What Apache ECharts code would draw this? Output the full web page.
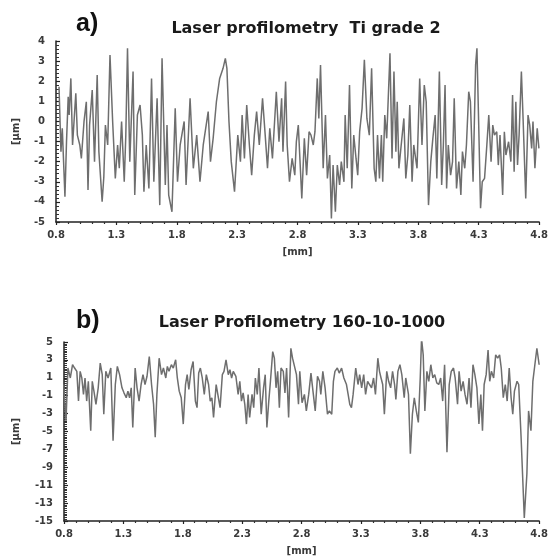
<!DOCTYPE html>
<html>
<head>
<meta charset="utf-8">
<script src="https://cdn.jsdelivr.net/npm/echarts@6/dist/echarts.min.js"></script>
<style>html,body{margin:0;padding:0;background:#fff}#c{width:551px;height:557px}</style>
</head>
<body>
<div id="c"></div>
<script>
// ---- Data ----
const titleA = 'Laser profilometry  Ti grade 2';
const titleB = 'Laser Profilometry 160-10-1000';
const xTicks = [0.8, 1.3, 1.8, 2.3, 2.8, 3.3, 3.8, 4.3, 4.8];
const yTicksA = [-5, -4, -3, -2, -1, 0, 1, 2, 3, 4];
const yTicksB = [-15, -13, -11, -9, -7, -5, -3, -1, 1, 3, 5];

// a) Ti grade 2 profile: position [mm] and height [µm]
const posA = [0.825,0.841,0.852,0.874,0.887,0.901,0.909,0.923,0.937,0.964,0.977,0.997,1.010,1.032,1.051,1.065,1.078,1.100,1.119,1.141,1.155,1.182,1.196,1.209,1.228,1.247,1.269,1.291,1.310,1.324,1.343,1.365,1.378,1.392,1.411,1.438,1.452,1.474,1.496,1.515,1.528,1.547,1.569,1.591,1.610,1.637,1.659,1.678,1.705,1.719,1.733,1.760,1.787,1.806,1.828,1.861,1.877,1.910,1.937,1.965,1.992,2.019,2.060,2.079,2.101,2.128,2.155,2.183,2.202,2.215,2.232,2.251,2.278,2.305,2.327,2.341,2.360,2.379,2.401,2.420,2.442,2.461,2.483,2.510,2.532,2.551,2.570,2.592,2.624,2.646,2.668,2.679,2.701,2.714,2.733,2.755,2.777,2.790,2.806,2.835,2.856,2.875,2.895,2.911,2.930,2.944,2.963,2.976,2.990,3.012,3.031,3.047,3.066,3.080,3.094,3.113,3.129,3.148,3.162,3.184,3.194,3.211,3.230,3.249,3.265,3.284,3.298,3.314,3.334,3.353,3.374,3.394,3.413,3.434,3.448,3.462,3.478,3.494,3.505,3.522,3.538,3.565,3.582,3.598,3.614,3.625,3.639,3.658,3.680,3.696,3.713,3.729,3.748,3.762,3.789,3.811,3.830,3.849,3.865,3.884,3.903,3.920,3.939,3.953,3.974,3.993,4.007,4.021,4.034,4.048,4.067,4.083,4.097,4.116,4.135,4.152,4.165,4.184,4.198,4.217,4.231,4.253,4.274,4.285,4.299,4.315,4.329,4.348,4.367,4.383,4.402,4.416,4.430,4.449,4.462,4.476,4.498,4.512,4.525,4.547,4.566,4.580,4.593,4.607,4.621,4.634,4.653,4.667,4.689,4.708,4.722,4.738,4.749,4.765,4.784,4.798];
const hA = [1.73,-1.5,-0.34,-3.74,-1.01,1.23,0.32,2.14,-1.17,1.40,-0.68,-1.17,-1.84,0.0,0.98,-3.41,-0.18,1.56,-2.0,2.31,-1.5,-3.99,-2.75,-0.18,-1.17,3.3,0.0,-2.83,-1.17,-2.33,0.0,-3.0,-0.68,3.64,-2.0,2.48,-3.66,0.32,0.82,-0.68,-3.49,-1.17,-3.33,2.14,-3.0,1.15,-4.16,3.14,-3.16,-0.18,-3.66,-4.49,0.65,-3.0,-1.17,0.0,-3.16,1.15,-2.33,-0.68,-3.0,-1.17,0.49,-2.0,-0.84,0.98,2.14,2.64,3.14,2.64,0.0,-2.0,-3.49,-0.68,-2.0,0.32,-1.84,0.82,-1.17,-2.67,-0.68,0.49,-1.17,1.15,-0.68,-2.33,-0.34,-1.84,1.48,-1.01,1.15,-1.5,1.98,-1.17,-3.0,-1.84,-2.67,-1.0,-0.18,-3.83,-0.84,-2.67,-0.51,-0.68,-1.17,-0.51,2.14,0.15,2.81,-2.33,0.32,-2.83,-1.67,-4.82,-2.17,-4.49,-2.17,-3.16,-2.0,-3.0,0.32,-2.33,1.81,-3.33,-0.68,-1.84,-2.67,-0.51,0.65,3.06,0.15,-0.68,2.64,-2.33,-3.0,-0.68,-2.83,-0.68,-3.0,0.32,-0.84,3.39,-1.84,2.48,-1.5,0.98,-2.33,-1.17,0.15,-2.83,-1.67,0.82,-3.0,-1.17,-2.33,2.14,-1.17,1.81,0.98,-4.16,-2.0,-0.84,0.32,-2.83,2.48,-3.16,-1.17,1.81,-3.33,-1.17,-2.67,-2.0,1.15,-3.33,-2.0,-3.66,-1.5,-2.33,-1.17,1.48,0.98,-3.0,2.81,3.64,0.0,-4.32,-3.0,-2.83,-1.17,0.32,-2.0,-0.18,-0.68,-0.51,-2.17,-0.68,-3.66,-0.51,-1.67,-1.01,-2.0,1.31,-2.5,0.98,-2.17,-0.68,2.48,0.15,-3.83,0.32,-0.18,-1.34,0.0,-2.33,-0.34,-1.34];

// b) 160-10-1000 profile: position [mm] and height [µm]
const posB = [0.797,0.817,0.833,0.853,0.872,0.889,0.908,0.922,0.936,0.950,0.964,0.977,0.991,1.005,1.025,1.038,1.052,1.069,1.088,1.105,1.122,1.135,1.152,1.171,1.194,1.213,1.232,1.249,1.268,1.288,1.305,1.324,1.338,1.352,1.366,1.379,1.399,1.415,1.432,1.449,1.465,1.482,1.499,1.518,1.537,1.554,1.568,1.582,1.601,1.621,1.637,1.657,1.670,1.684,1.704,1.720,1.740,1.754,1.770,1.787,1.804,1.823,1.837,1.851,1.870,1.887,1.906,1.920,1.934,1.948,1.964,1.981,1.998,2.017,2.031,2.045,2.059,2.081,2.100,2.114,2.133,2.147,2.164,2.183,2.197,2.211,2.225,2.247,2.266,2.280,2.294,2.308,2.322,2.336,2.350,2.363,2.383,2.397,2.411,2.427,2.441,2.460,2.480,2.494,2.508,2.524,2.538,2.557,2.571,2.585,2.599,2.613,2.627,2.646,2.660,2.674,2.691,2.710,2.724,2.738,2.757,2.774,2.785,2.804,2.824,2.840,2.860,2.879,2.896,2.915,2.934,2.951,2.962,2.979,2.998,3.018,3.034,3.054,3.068,3.081,3.101,3.117,3.137,3.156,3.178,3.192,3.206,3.220,3.234,3.256,3.275,3.289,3.306,3.323,3.339,3.356,3.372,3.389,3.406,3.422,3.442,3.456,3.469,3.483,3.497,3.517,3.533,3.550,3.566,3.583,3.594,3.611,3.628,3.644,3.664,3.677,3.700,3.716,3.733,3.749,3.766,3.783,3.799,3.810,3.824,3.838,3.855,3.871,3.888,3.905,3.921,3.938,3.955,3.971,3.988,4.004,4.024,4.043,4.060,4.079,4.093,4.113,4.126,4.143,4.160,4.176,4.193,4.210,4.226,4.243,4.259,4.276,4.293,4.309,4.323,4.337,4.354,4.370,4.384,4.398,4.417,4.434,4.451,4.467,4.481,4.498,4.515,4.531,4.548,4.564,4.578,4.592,4.614,4.628,4.648,4.675,4.697,4.711,4.731,4.747,4.764,4.781,4.800];
const hB = [0.25,-3.81,2.09,0.98,2.46,2.09,1.72,-1.6,1.72,0.98,-0.86,0.98,-1.6,0.61,-4.91,0.61,-0.49,-1.96,-0.12,2.64,1.35,-3.07,1.72,0.98,2.09,-6.02,0.25,2.27,1.35,-0.12,-0.68,-1.23,-0.49,-1.23,-0.12,-4.54,2.09,-0.12,-1.6,0.25,1.35,0.25,1.17,3.38,0.25,-1.96,-5.65,-0.86,3.19,1.35,2.09,0.98,2.27,1.72,2.46,2.09,3.01,0.98,-0.49,-1.23,-4.17,0.25,1.35,-0.31,1.9,2.82,-1.6,-2.33,1.53,2.09,0.98,-0.86,1.35,0.25,-1.6,-1.23,-3.44,0.25,-1.23,-2.33,1.35,1.72,3.01,1.35,1.9,0.98,1.72,1.17,-0.86,0.61,-1.6,-0.68,-1.96,-4.17,-0.86,-3.44,-0.86,-2.33,0.98,-0.86,2.09,-3.07,-0.12,1.35,-4.54,-1.6,0.61,3.93,3.19,-0.12,1.72,-2.33,2.09,1.72,-0.68,2.09,-3.44,4.3,3.19,3.38,1.35,-1.96,1.72,-1.78,-0.86,-2.70,-0.86,1.53,-0.49,-2.70,1.17,0.61,-0.86,1.72,-0.12,-3.07,-2.70,-3.07,0.61,1.72,2.09,1.53,2.09,0.98,0.25,-0.86,-1.96,-2.33,-0.86,2.09,0.25,1.35,-0.12,1.35,-0.86,0.61,0.25,-0.12,0.98,-0.86,3.19,1.72,0.98,0.25,-3.07,1.72,0.61,-0.12,1.72,0.25,-1.41,1.72,2.46,1.35,-1.23,0.98,-0.86,-7.49,-3.07,-1.23,-2.70,-3.99,0.98,5.4,3.56,-2.70,1.72,0.61,2.46,0.98,1.35,0.43,0.25,0.98,-1.6,2.46,-7.31,0.25,1.72,2.09,0.98,-1.96,1.72,-0.49,0.61,-0.86,-1.96,0.98,-2.33,2.46,1.35,-0.12,-4.17,-0.86,-4.91,0.25,1.35,4.11,0.61,1.72,0.98,3.56,3.19,3.56,2.09,-1.23,0.25,-1.6,2.09,-1.23,-3.07,-0.49,0.61,0.25,-5.65,-14.67,-9.70,-2.70,-4.91,0.61,2.46,4.3,2.46];

// ---- Chart ----
const zip = (xs, ys) => xs.map((x, i) => [x, ys[i]]);
const FONT = 'DejaVu Sans, Verdana, sans-serif';
const lblFont = { color: '#3a3a3a', fontFamily: FONT, fontWeight: 'bold', fontSize: 10 };
const axLine = { show: true, onZero: false, lineStyle: { color: '#222', width: 1.5 } };

function xAxis(gi, gap) {
  return {
    type: 'value', gridIndex: gi, min: xTicks[0], max: xTicks[xTicks.length - 1], interval: xTicks[1] - xTicks[0],
    name: '[mm]', nameLocation: 'middle', nameGap: gap,
    nameTextStyle: Object.assign({}, lblFont, { fontSize: 10 }),
    axisLine: axLine,
    axisTick: { show: true, length: 3, lineStyle: { color: '#222', width: 1.2 } },
    minorTick: { show: true, splitNumber: 5, length: 2, lineStyle: { color: '#333', width: 1.2 } },
    splitLine: { show: false },
    axisLabel: Object.assign({}, lblFont, { margin: 8, formatter: v => v.toFixed(1), showMaxLabel: true }),
  };
}
function yAxis(gi, ticks, minorSplit, gap) {
  return {
    type: 'value', gridIndex: gi, min: ticks[0], max: ticks[ticks.length - 1], interval: ticks[1] - ticks[0],
    name: '[µm]', nameLocation: 'middle', nameGap: gap, nameRotate: 90,
    nameTextStyle: Object.assign({}, lblFont, { fontSize: 10 }),
    axisLine: axLine,
    axisTick: { show: true, inside: true, length: 4, lineStyle: { color: '#222', width: 1.2 } },
    minorTick: { show: true, splitNumber: minorSplit, length: 3, lineStyle: { color: '#333', width: 1 } },
    splitLine: { show: false },
    axisLabel: Object.assign({}, lblFont, { margin: 11 }),
  };
}

const chart = echarts.init(document.getElementById('c'), null, { renderer: 'canvas' });
chart.setOption({
  backgroundColor: '#ffffff',
  animation: false,
  title: [
    { text: titleA, left: 301, top: 16, textAlign: 'center', textStyle: { fontFamily: FONT, fontWeight: 'bold', fontSize: 16, color: '#1a1a1a' } },
    { text: titleB, left: 297, top: 310, textAlign: 'center', textStyle: { fontFamily: FONT, fontWeight: 'bold', fontSize: 16, color: '#1a1a1a' } },
    { text: 'a)', left: 71, top: 7, textStyle: { fontFamily: 'Liberation Sans, Arial, sans-serif', fontWeight: 'bold', fontSize: 25, color: '#111' } },
    { text: 'b)', left: 71, top: 304, textStyle: { fontFamily: 'Liberation Sans, Arial, sans-serif', fontWeight: 'bold', fontSize: 25, color: '#111' } },
  ],
  grid: [
    { left: 56, right: 6, top: 41, height: 181 },
    { left: 64, right: 6, top: 342, height: 181 },
  ],
  xAxis: [xAxis(0, 25), xAxis(1, 25)],
  yAxis: [yAxis(0, yTicksA, 5, 35), yAxis(1, yTicksB, 10, 43)],
  series: [
    { type: 'line', xAxisIndex: 0, yAxisIndex: 0, data: zip(posA, hA), showSymbol: false, lineStyle: { color: '#6e6e6e', width: 1.5 } },
    { type: 'line', xAxisIndex: 1, yAxisIndex: 1, data: zip(posB, hB), showSymbol: false, lineStyle: { color: '#6e6e6e', width: 1.5 } },
  ],
});
</script>
</body>
</html>
